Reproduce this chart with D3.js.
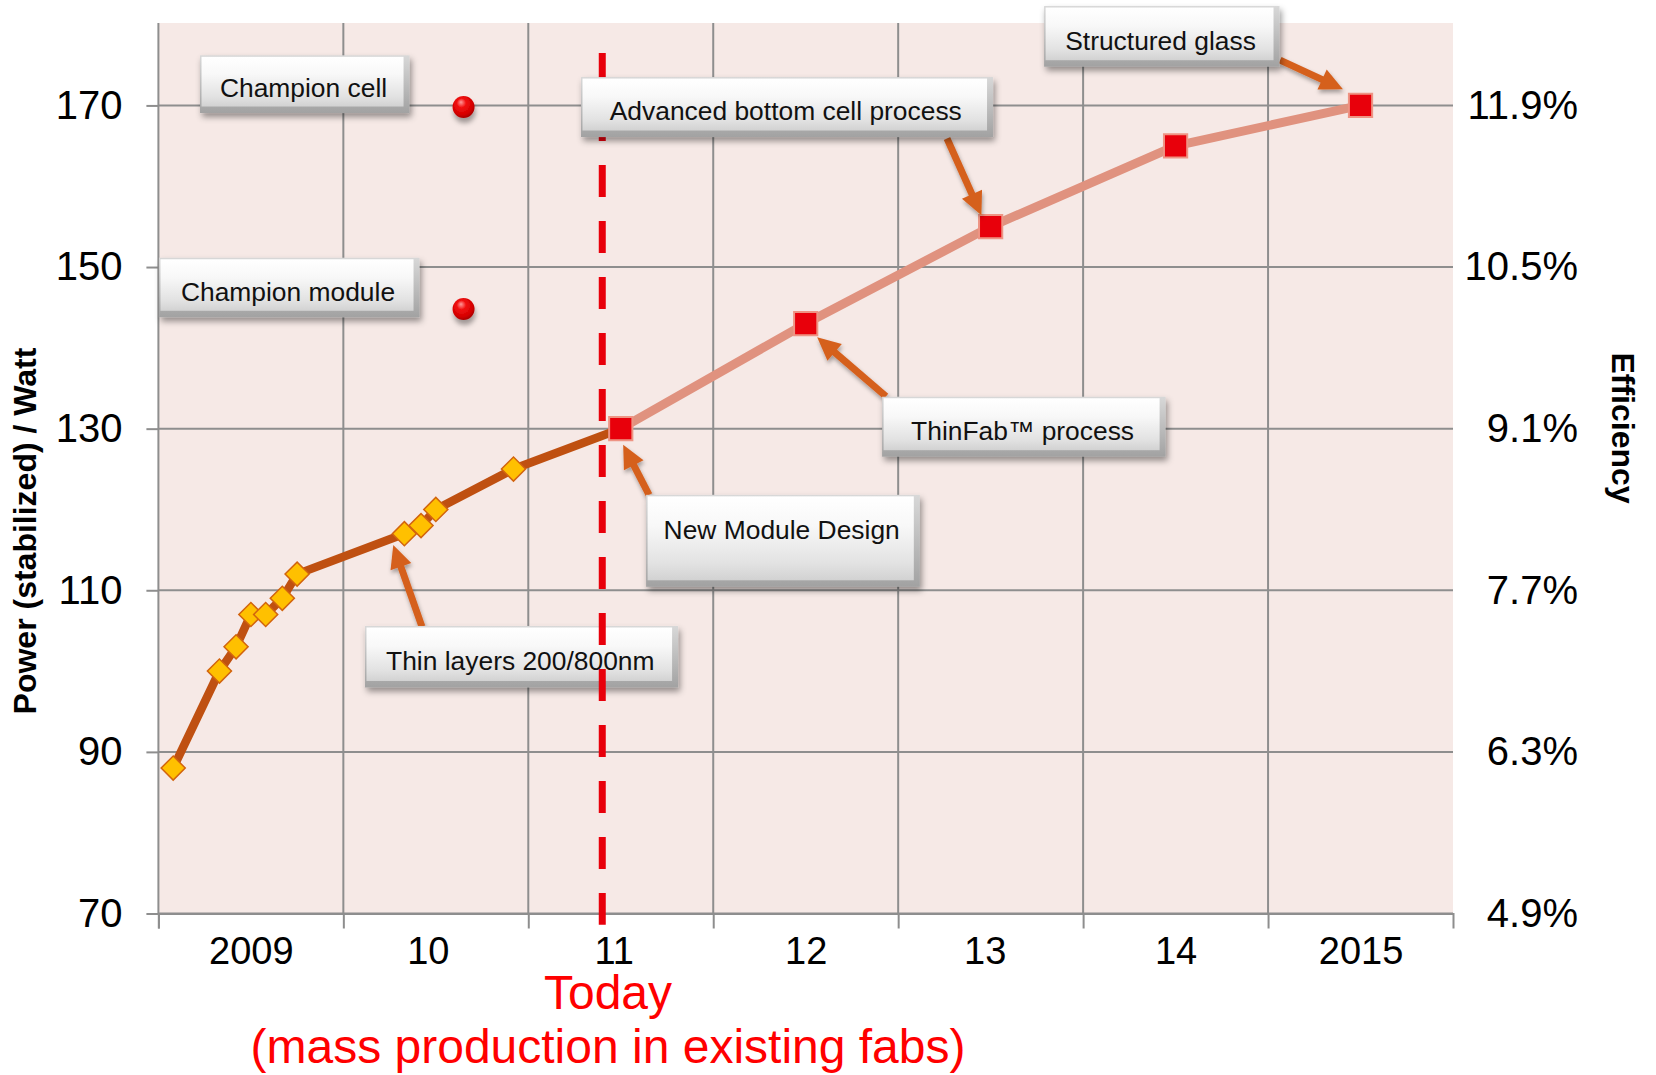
<!DOCTYPE html>
<html>
<head>
<meta charset="utf-8">
<script src="https://cdn.jsdelivr.net/npm/d3@7"></script>
<style>
  html, body { margin: 0; padding: 0; background: #ffffff; }
  svg { display: block; font-family: "Liberation Sans", Arial, Helvetica, sans-serif; }
</style>
</head>
<body>
<svg id="chart" width="1656" height="1075"></svg>
<script>
// ---- axis categories and ticks ----
const years = [2009, 2010, 2011, 2012, 2013, 2014, 2015];
const yearLabels = ["2009", "10", "11", "12", "13", "14", "2015"];
const powerTicks = [70, 90, 110, 130, 150, 170];
const efficiencyTicks = [4.9, 6.3, 7.7, 9.1, 10.5, 11.9];

// ---- measured stabilized module power (decimal year, W) ----
const measuredDates = [2009.08, 2009.33, 2009.42, 2009.50, 2009.58, 2009.67, 2009.75, 2010.33, 2010.42, 2010.50, 2010.92];
const measuredPower = [88, 100, 103, 107, 107, 109, 112, 117, 118, 120, 125];

// ---- roadmap targets ----
const roadmapDates = [2011.5, 2012.5, 2013.5, 2014.5, 2015.5];
const roadmapPower = [130, 143, 155, 165, 170];

// ---- record results ----
const championNames = ["Champion cell", "Champion module"];
const championDates = [2010.65, 2010.65];
const championPower = [170, 145];

// ---- current date marker ----
const todayDate = 2011.4;
const todayLabel = ["Today", "(mass production in existing fabs)"];

// efficiency (%) of a module delivering a given power
const efficiencyPerWatt = 0.07;

// horizontal nudge of the year labels (px)
const yearLabelNudge = [0, -8, -7, 0, -6, 0, 0];

// ---- callout layout (data units) ----
const callouts = [
  { text: "Thin layers 200/800nm", x0: 2010.117, x1: 2011.81, y0: 105.58, y1: 97.97,
    tail: [2010.425, 105.5], tip: [2010.27, 115.6], layer: "under" },
  { text: "Champion cell", x0: 2009.225, x1: 2010.358, y0: 176.2, y1: 169.06, layer: "over" },
  { text: "Champion module", x0: 2009.003, x1: 2010.412, y0: 151.15, y1: 143.78, layer: "over" },
  { text: "Advanced bottom cell process", x0: 2011.285, x1: 2013.513, y0: 173.51, y1: 166.09,
    tail: [2013.264, 165.9], tip: [2013.45, 156.4], layer: "over" },
  { text: "Structured glass", x0: 2013.789, x1: 2015.062, y0: 182.3, y1: 174.79,
    tail: [2015.065, 175.6], tip: [2015.405, 172.0], layer: "over" },
  { text: "ThinFab\u2122 process", x0: 2012.913, x1: 2014.446, y0: 133.95, y1: 126.53,
    tail: [2012.934, 134.0], tip: [2012.562, 141.3], layer: "over" },
  { text: "New Module Design", x0: 2011.637, x1: 2013.117, y0: 121.81, y1: 110.43,
    tail: [2011.653, 121.8], tip: [2011.513, 128.0], layer: "over", textTop: 35 }
];

// ---- scales ----
const svg = d3.select("#chart");
const plot = { left: 158.4, right: 1453, top: 23, bottom: 913.5 };

const x = d3.scaleLinear().domain([2009, 2016]).range([plot.left, plot.right]);
const y = d3.scaleLinear().domain([70, 180.2]).range([plot.bottom, plot.top]);
const yEff = d3.scaleLinear()
  .domain(y.domain().map(p => p * efficiencyPerWatt))
  .range(y.range());

// ---- defs: gradients and shadows ----
const defs = svg.append("defs");

const face = defs.append("linearGradient").attr("id", "boxFace")
  .attr("x1", 0).attr("y1", 0).attr("x2", 0).attr("y2", 1);
face.append("stop").attr("offset", "0%").attr("stop-color", "#ffffff");
face.append("stop").attr("offset", "35%").attr("stop-color", "#f8f8f8");
face.append("stop").attr("offset", "80%").attr("stop-color", "#e2e2e2");
face.append("stop").attr("offset", "100%").attr("stop-color", "#d2d2d2");

const edge = defs.append("linearGradient").attr("id", "boxEdge")
  .attr("x1", 0).attr("y1", 0).attr("x2", 0).attr("y2", 1);
edge.append("stop").attr("offset", "0%").attr("stop-color", "#d8d8d8");
edge.append("stop").attr("offset", "100%").attr("stop-color", "#a2a2a2");

const ball = defs.append("radialGradient").attr("id", "ball")
  .attr("cx", "45%").attr("cy", "40%").attr("r", "60%")
  .attr("fx", "38%").attr("fy", "28%");
ball.append("stop").attr("offset", "0%").attr("stop-color", "#ff9a9a");
ball.append("stop").attr("offset", "35%").attr("stop-color", "#f21010");
ball.append("stop").attr("offset", "80%").attr("stop-color", "#d40000");
ball.append("stop").attr("offset", "100%").attr("stop-color", "#a80000");

function shadow(id, dx, dy, sd, op) {
  const f = defs.append("filter").attr("id", id)
    .attr("x", "-30%").attr("y", "-30%").attr("width", "170%").attr("height", "190%");
  f.append("feDropShadow").attr("dx", dx).attr("dy", dy)
    .attr("stdDeviation", sd).attr("flood-color", "#000").attr("flood-opacity", op);
}
shadow("boxShadow", 2, 4, 3, 0.4);
shadow("ballShadow", 1, 5, 2.5, 0.35);
shadow("arrowShadow", 1, 3, 2, 0.35);

// ---- plot background ----
svg.append("rect")
  .attr("x", plot.left).attr("y", plot.top)
  .attr("width", plot.right - plot.left).attr("height", plot.bottom - plot.top)
  .attr("fill", "#f6e9e6");

// ---- grid ----
const gridColor = "#8e8e8e";
const grid = svg.append("g").attr("stroke", gridColor).attr("stroke-width", 2);
grid.selectAll("line.h").data(powerTicks).join("line")
  .attr("x1", plot.left).attr("x2", plot.right)
  .attr("y1", d => y(d)).attr("y2", d => y(d));
grid.selectAll("line.v").data(years).join("line")
  .attr("x1", d => x(d)).attr("x2", d => x(d))
  .attr("y1", plot.top).attr("y2", plot.bottom);

// ---- axes ----
const fontFamily = "Liberation Sans, Arial, sans-serif";

const leftAxis = svg.append("g")
  .attr("transform", `translate(${plot.left},0)`)
  .call(d3.axisLeft(y).tickValues(powerTicks).tickSize(12).tickPadding(24));
leftAxis.select(".domain").remove();
leftAxis.selectAll(".tick line").attr("stroke", gridColor).attr("stroke-width", 2);
leftAxis.selectAll(".tick text")
  .attr("font-size", 40).attr("fill", "#000").attr("font-family", fontFamily);

const rightAxis = svg.append("g")
  .attr("transform", `translate(${plot.right},0)`)
  .call(d3.axisRight(yEff).tickValues(efficiencyTicks).tickSize(0)
    .tickFormat(d => d.toFixed(1) + "%"));
rightAxis.select(".domain").remove();
rightAxis.selectAll(".tick text")
  .attr("x", 1578 - plot.right).attr("text-anchor", "end")
  .attr("font-size", 40).attr("fill", "#000").attr("font-family", fontFamily);

const halfYear = x(2009.5) - x(2009);
const bottomAxis = svg.append("g")
  .attr("transform", `translate(0,${plot.bottom})`)
  .call(d3.axisBottom(x).tickValues(years).tickSize(15).tickPadding(9)
    .tickFormat((d, i) => yearLabels[i]));
bottomAxis.select(".domain").attr("stroke", gridColor).attr("stroke-width", 2);
bottomAxis.selectAll(".tick line").attr("stroke", gridColor).attr("stroke-width", 2);
bottomAxis.selectAll(".tick text")
  .attr("x", (d, i) => halfYear + yearLabelNudge[i])
  .attr("font-size", 38).attr("fill", "#000").attr("font-family", fontFamily);

// ---- axis titles ----
svg.append("text")
  .attr("transform", `translate(36,531) rotate(-90)`)
  .attr("text-anchor", "middle")
  .attr("font-size", 32).attr("font-weight", "bold").attr("fill", "#000")
  .text("Power (stabilized) / Watt");

svg.append("text")
  .attr("transform", `translate(1612,428) rotate(90)`)
  .attr("text-anchor", "middle")
  .attr("font-size", 32).attr("font-weight", "bold").attr("fill", "#000")
  .text("Efficiency");

// ---- series ----
const measured = measuredDates.map((d, i) => [d, measuredPower[i]]);
const roadmap = roadmapDates.map((d, i) => [d, roadmapPower[i]]);
const line = d3.line().x(d => x(d[0])).y(d => y(d[1]));

svg.append("path")
  .datum(roadmap)
  .attr("d", line)
  .attr("fill", "none").attr("stroke", "#e0927f").attr("stroke-width", 9)
  .attr("stroke-linejoin", "round");

svg.append("path")
  .datum(measured.concat([roadmap[0]]))
  .attr("d", line)
  .attr("fill", "none").attr("stroke", "#bf5011").attr("stroke-width", 8.5)
  .attr("stroke-linejoin", "round");

svg.append("g").selectAll("path").data(measured).join("path")
  .attr("d", d3.symbol(d3.symbolSquare, 290))
  .attr("transform", d => `translate(${x(d[0])},${y(d[1])}) rotate(45)`)
  .attr("fill", "#ffc000").attr("stroke", "#d2640e").attr("stroke-width", 1.5);

svg.append("g").selectAll("path").data(roadmap).join("path")
  .attr("d", d3.symbol(d3.symbolSquare, 540))
  .attr("transform", d => `translate(${x(d[0])},${y(d[1])})`)
  .attr("fill", "#e8000b").attr("stroke", "#ee9484").attr("stroke-width", 2);

svg.append("g").selectAll("circle").data(championPower).join("circle")
  .attr("cx", (d, i) => x(championDates[i]))
  .attr("cy", d => y(d) + 1.5)
  .attr("r", 11)
  .attr("fill", "url(#ball)")
  .attr("filter", "url(#ballShadow)")
  .append("title").text((d, i) => `${championNames[i]}: ${d} W`);

// ---- callouts ----
const arrowColor = "#d5601e";
function drawArrow(g, c) {
  if (!c.tail) return;
  const t0 = [x(c.tail[0]), y(c.tail[1])];
  const t1 = [x(c.tip[0]), y(c.tip[1])];
  const dx = t1[0] - t0[0], dy = t1[1] - t0[1];
  const len = Math.hypot(dx, dy);
  const ux = dx / len, uy = dy / len;
  const nx = -uy, ny = ux;
  const headLen = 23, headHalf = 11;
  const bx = t1[0] - ux * headLen, by = t1[1] - uy * headLen;
  const ag = g.append("g").attr("filter", "url(#arrowShadow)");
  ag.append("line")
    .attr("x1", t0[0]).attr("y1", t0[1])
    .attr("x2", bx + ux * 2).attr("y2", by + uy * 2)
    .attr("stroke", arrowColor).attr("stroke-width", 7);
  ag.append("path")
    .attr("d", `M${t1[0]},${t1[1]}L${bx + nx * headHalf},${by + ny * headHalf}L${bx - nx * headHalf},${by - ny * headHalf}Z`)
    .attr("fill", arrowColor);
}

function drawBox(g, c) {
  const bx = x(c.x0), by = y(c.y0);
  const bw = x(c.x1) - bx, bh = y(c.y1) - by;
  const bg = g.append("g");
  const shade = bg.append("g").attr("filter", "url(#boxShadow)");
  shade.append("rect")
    .attr("x", bx).attr("y", by).attr("width", bw).attr("height", bh)
    .attr("fill", "url(#boxEdge)");
  shade.append("rect")
    .attr("x", bx + 1.5).attr("y", by + 1.5).attr("width", bw - 7.5).attr("height", bh - 8)
    .attr("fill", "url(#boxFace)");
  const cy = c.textTop ? by + c.textTop : by + bh / 2 + 4;
  bg.append("text")
    .attr("x", bx + 1.5 + (bw - 7.5) / 2 + 1)
    .attr("y", cy)
    .attr("dy", "0.35em")
    .attr("text-anchor", "middle")
    .attr("font-size", 26.4).attr("fill", "#111")
    .text(c.text);
}

const underLayer = svg.append("g");
callouts.filter(c => c.layer === "under").forEach(c => { drawArrow(underLayer, c); drawBox(underLayer, c); });

// ---- "today" marker ----
svg.append("line")
  .attr("x1", x(todayDate)).attr("x2", x(todayDate))
  .attr("y1", y(176.5)).attr("y2", y(68.6))
  .attr("stroke", "#e8000b").attr("stroke-width", 7)
  .attr("stroke-dasharray", "32 24");

const overLayer = svg.append("g");
callouts.filter(c => c.layer === "over").forEach(c => { drawArrow(overLayer, c); drawBox(overLayer, c); });

// ---- today caption ----
svg.append("text")
  .attr("x", 608).attr("y", 1009)
  .attr("text-anchor", "middle")
  .attr("font-size", 48).attr("fill", "#ff0000")
  .text(todayLabel[0]);
svg.append("text")
  .attr("x", 608).attr("y", 1063)
  .attr("text-anchor", "middle")
  .attr("font-size", 48).attr("fill", "#ff0000")
  .text(todayLabel[1]);
</script>
</body>
</html>
